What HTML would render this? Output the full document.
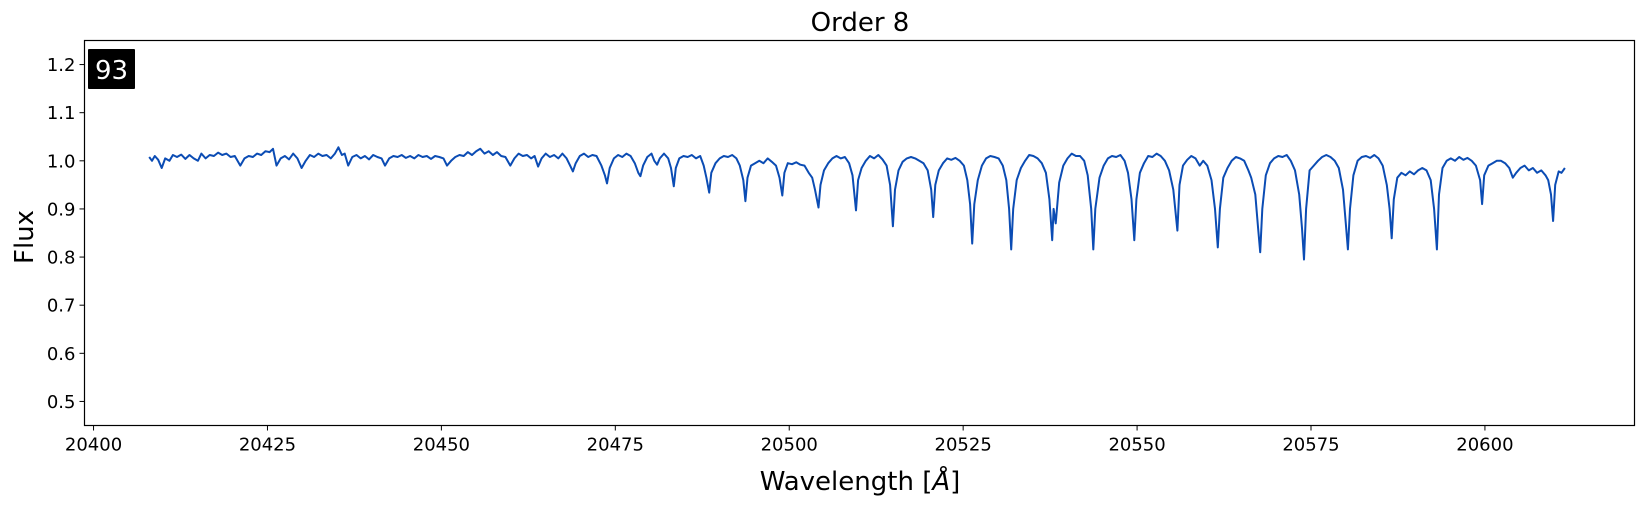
<!DOCTYPE html>
<html><head><meta charset="utf-8"><style>
html,body{margin:0;padding:0;background:#fff;}
svg{display:block;font-family:"DejaVu Sans","Liberation Sans",sans-serif;}
</style></head><body>
<svg id="chart" width="1644" height="506" viewBox="0 0 1644 506" xmlns="http://www.w3.org/2000/svg">
<text x="860" y="31" font-size="26" text-anchor="middle" fill="#000">Order 8</text>
<g id="yticks"></g>
<g id="xticks"></g>
<g id="series"></g>
<rect x="84.5" y="40.5" width="1550" height="385" fill="none" stroke="#000" stroke-width="1.2"/>
<rect x="88" y="49" width="47" height="40" fill="#000" rx="1"/>
<text x="111.5" y="79" font-size="26" text-anchor="middle" fill="#fff">93</text>
<text x="860" y="490" font-size="26" text-anchor="middle" fill="#000">Wavelength [<tspan font-style="italic">Å</tspan>]</text>
<text transform="translate(33,237) rotate(-90)" font-size="26" text-anchor="middle" fill="#000">Flux</text>
</svg>
<script>
var xTicks=[20400,20425,20450,20475,20500,20525,20550,20575,20600];
var yTicks=[0.5,0.6,0.7,0.8,0.9,1.0,1.1,1.2];
var yTickLabels=["0.5","0.6","0.7","0.8","0.9","1.0","1.1","1.2"];
var spectrum=[[408.0,1.008],[408.4,1.0],[408.8,1.01],[409.3,1.002],[409.8,0.985],[410.3,1.005],[410.9,1.0],[411.4,1.012],[412.0,1.008],[412.6,1.013],[413.2,1.004],[413.8,1.012],[414.4,1.005],[415.0,1.0],[415.5,1.015],[416.1,1.005],[416.7,1.012],[417.3,1.01],[417.9,1.017],[418.5,1.012],[419.1,1.015],[419.7,1.008],[420.3,1.01],[421.1,0.99],[421.7,1.005],[422.3,1.01],[422.9,1.008],[423.5,1.015],[424.1,1.012],[424.7,1.02],[425.3,1.018],[425.8,1.025],[426.3,0.99],[426.9,1.005],[427.5,1.01],[428.1,1.003],[428.7,1.015],[429.3,1.005],[429.9,0.985],[430.5,1.0],[431.1,1.012],[431.7,1.008],[432.3,1.015],[432.9,1.01],[433.5,1.012],[434.1,1.005],[434.7,1.015],[435.2,1.028],[435.7,1.012],[436.1,1.015],[436.6,0.99],[437.2,1.008],[437.8,1.012],[438.4,1.005],[439.0,1.01],[439.6,1.003],[440.2,1.012],[440.8,1.008],[441.4,1.005],[441.9,0.99],[442.5,1.005],[443.1,1.01],[443.7,1.008],[444.3,1.012],[444.9,1.006],[445.5,1.01],[446.1,1.005],[446.7,1.012],[447.3,1.008],[447.9,1.01],[448.5,1.004],[449.1,1.01],[449.7,1.008],[450.3,1.005],[450.8,0.99],[451.4,1.0],[452.0,1.008],[452.6,1.012],[453.2,1.01],[453.8,1.018],[454.4,1.012],[455.0,1.02],[455.6,1.025],[456.2,1.015],[456.8,1.02],[457.4,1.012],[458.0,1.018],[458.6,1.01],[459.2,1.008],[459.9,0.99],[460.5,1.005],[461.1,1.015],[461.7,1.01],[462.3,1.012],[462.9,1.005],[463.4,1.01],[463.9,0.988],[464.4,1.005],[465.0,1.015],[465.6,1.008],[466.2,1.012],[466.8,1.005],[467.4,1.015],[468.0,1.005],[468.5,0.99],[468.9,0.978],[469.3,0.995],[469.9,1.01],[470.5,1.015],[471.1,1.008],[471.7,1.012],[472.3,1.01],[473.0,0.99],[473.5,0.97],[473.8,0.953],[474.2,0.985],[474.8,1.005],[475.4,1.012],[476.0,1.008],[476.6,1.015],[477.2,1.01],[477.8,0.995],[478.3,0.975],[478.6,0.968],[479.0,0.99],[479.6,1.008],[480.2,1.015],[480.6,1.0],[481.0,0.992],[481.4,1.005],[482.0,1.015],[482.6,1.005],[483.0,0.985],[483.4,0.947],[483.7,0.985],[484.2,1.005],[484.8,1.01],[485.4,1.008],[486.0,1.012],[486.6,1.005],[487.2,1.01],[487.7,0.99],[488.1,0.965],[488.5,0.934],[488.8,0.975],[489.4,0.995],[490.0,1.005],[490.6,1.01],[491.2,1.008],[491.8,1.012],[492.4,1.005],[492.9,0.99],[493.4,0.96],[493.7,0.916],[494.0,0.965],[494.5,0.99],[495.1,0.995],[495.7,1.0],[496.3,0.995],[496.9,1.005],[497.5,0.998],[498.1,0.99],[498.6,0.965],[499.0,0.928],[499.3,0.975],[499.8,0.995],[500.4,0.993],[501.0,0.997],[501.6,0.992],[502.2,0.99],[502.8,0.975],[503.3,0.965],[503.7,0.94],[504.2,0.903],[504.5,0.95],[505.0,0.98],[505.6,0.995],[506.2,1.005],[506.8,1.01],[507.4,1.005],[508.0,1.008],[508.6,0.995],[509.1,0.97],[509.6,0.897],[509.9,0.96],[510.4,0.985],[511.0,1.0],[511.6,1.01],[512.2,1.005],[512.8,1.012],[513.4,1.003],[514.0,0.99],[514.5,0.95],[514.9,0.864],[515.2,0.94],[515.7,0.98],[516.3,0.998],[516.9,1.005],[517.5,1.008],[518.1,1.005],[518.7,1.0],[519.3,0.995],[519.9,0.98],[520.4,0.94],[520.7,0.883],[521.0,0.95],[521.5,0.98],[522.1,0.995],[522.7,1.005],[523.3,1.002],[523.9,1.006],[524.5,1.0],[525.1,0.99],[525.6,0.96],[526.0,0.91],[526.3,0.828],[526.6,0.91],[527.1,0.96],[527.7,0.99],[528.3,1.005],[528.9,1.01],[529.5,1.008],[530.1,1.005],[530.7,0.99],[531.2,0.96],[531.6,0.9],[531.9,0.816],[532.2,0.9],[532.7,0.96],[533.3,0.985],[533.9,1.0],[534.5,1.012],[535.1,1.01],[535.7,1.005],[536.3,0.995],[536.9,0.975],[537.4,0.92],[537.8,0.835],[538.0,0.9],[538.3,0.87],[538.8,0.955],[539.4,0.99],[540.0,1.005],[540.6,1.015],[541.2,1.01],[541.8,1.01],[542.4,1.0],[542.9,0.97],[543.4,0.9],[543.7,0.816],[544.0,0.9],[544.6,0.965],[545.2,0.99],[545.8,1.005],[546.4,1.01],[547.0,1.008],[547.6,1.012],[548.2,1.0],[548.7,0.975],[549.2,0.92],[549.6,0.835],[549.9,0.92],[550.4,0.975],[551.0,0.995],[551.6,1.01],[552.2,1.008],[552.8,1.015],[553.4,1.01],[554.0,1.0],[554.6,0.98],[555.2,0.94],[555.8,0.855],[556.1,0.95],[556.6,0.99],[557.2,1.002],[557.8,1.01],[558.4,1.005],[559.0,0.99],[559.5,1.0],[560.1,0.99],[560.7,0.96],[561.2,0.9],[561.6,0.82],[561.9,0.9],[562.4,0.965],[563.0,0.985],[563.6,1.0],[564.2,1.008],[564.8,1.005],[565.4,1.0],[566.0,0.98],[566.4,0.965],[567.0,0.93],[567.4,0.86],[567.7,0.81],[568.0,0.9],[568.5,0.97],[569.1,0.995],[569.7,1.005],[570.3,1.01],[570.9,1.008],[571.5,1.012],[572.1,1.0],[572.7,0.98],[573.3,0.93],[573.7,0.86],[574.0,0.795],[574.3,0.9],[574.8,0.98],[575.4,0.99],[576.0,1.0],[576.6,1.008],[577.2,1.012],[577.8,1.008],[578.4,1.0],[579.0,0.985],[579.6,0.94],[580.0,0.87],[580.3,0.816],[580.6,0.9],[581.1,0.97],[581.7,1.0],[582.3,1.008],[582.9,1.01],[583.5,1.006],[584.1,1.012],[584.7,1.005],[585.3,0.99],[585.9,0.95],[586.3,0.9],[586.6,0.839],[586.9,0.92],[587.4,0.965],[588.0,0.975],[588.6,0.97],[589.2,0.978],[589.8,0.972],[590.4,0.98],[591.0,0.985],[591.6,0.98],[592.2,0.96],[592.7,0.9],[593.1,0.816],[593.4,0.93],[593.9,0.985],[594.5,1.0],[595.1,1.005],[595.7,1.0],[596.3,1.008],[596.9,1.002],[597.5,1.006],[598.1,1.0],[598.7,0.99],[599.3,0.96],[599.6,0.91],[599.9,0.97],[600.5,0.99],[601.1,0.995],[601.7,1.0],[602.3,1.0],[602.9,0.995],[603.5,0.985],[604.0,0.965],[604.5,0.975],[605.1,0.985],[605.7,0.99],[606.3,0.98],[606.9,0.985],[607.5,0.975],[608.1,0.98],[608.7,0.97],[609.1,0.96],[609.5,0.93],[609.8,0.875],[610.1,0.95],[610.6,0.978],[611.0,0.975],[611.5,0.985]];
var wavelengthOffset=20000;

var X0=84.5,X1=1634.5,Y0=40.5,Y1=425.5;
var xMin=20398.7,xMax=20621.5,yMin=0.45,yMax=1.25;
function xs(v){return X0+(v-xMin)/(xMax-xMin)*(X1-X0);}
function ys(v){return Y1-(v-yMin)/(yMax-yMin)*(Y1-Y0);}
var NS="http://www.w3.org/2000/svg";
var yg=document.getElementById('yticks'),xg=document.getElementById('xticks');
var d='';
for(var k=0;k<spectrum.length;k++){
  d+=(k===0?'M':'L')+xs(wavelengthOffset+spectrum[k][0]).toFixed(1)+' '+ys(spectrum[k][1]).toFixed(1)+' ';
}
var path=document.createElementNS(NS,'path');


path.setAttribute('d',d);
path.setAttribute('fill','none');
path.setAttribute('stroke','#0b4cb4');
path.setAttribute('stroke-width','2');
path.setAttribute('stroke-linejoin','round');
document.getElementById('series').appendChild(path);
for(var i=0;i<yTicks.length;i++){
  var y=ys(yTicks[i]);
  var l=document.createElementNS(NS,'line');
  
  
  l.setAttribute('x1',X0-5);l.setAttribute('x2',X0);l.setAttribute('y1',y);l.setAttribute('y2',y);
  l.setAttribute('stroke','#000');l.setAttribute('stroke-width','1');
  yg.appendChild(l);
  var tx=document.createElementNS(NS,'text');
  
  
  tx.setAttribute('x',X0-9);tx.setAttribute('y',y+6.5);tx.setAttribute('font-size','18');tx.setAttribute('text-anchor','end');
  tx.textContent=yTickLabels[i];
  yg.appendChild(tx);
}
for(var j=0;j<xTicks.length;j++){
  var x=xs(xTicks[j]);
  var l2=document.createElementNS(NS,'line');
  
  
  l2.setAttribute('x1',x);l2.setAttribute('x2',x);l2.setAttribute('y1',Y1);l2.setAttribute('y2',Y1+5);
  l2.setAttribute('stroke','#000');l2.setAttribute('stroke-width','1');
  xg.appendChild(l2);
  var tx2=document.createElementNS(NS,'text');
  
  
  tx2.setAttribute('x',x);tx2.setAttribute('y',Y1+25);tx2.setAttribute('font-size','18');tx2.setAttribute('text-anchor','middle');
  tx2.textContent=String(xTicks[j]);
  xg.appendChild(tx2);
}
</script>
</body></html>
